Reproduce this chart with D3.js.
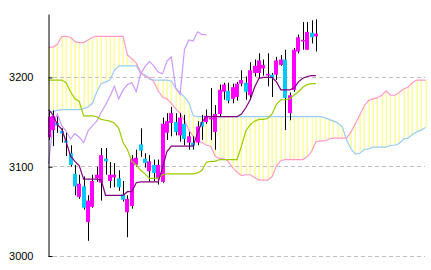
<!DOCTYPE html>
<html>
<head>
<meta charset="utf-8">
<script src="https://cdn.jsdelivr.net/npm/d3@7"></script>
<style>
  body { margin: 0; background: #fff; }
</style>
</head>
<body>
<div id="chart"></div>
<script>
// price ticks on the left axis
const yTicks = [3000, 3100, 3200];

// candles, one per bar (slot 0 is cut by the axis)
const open  = [3133,3141,3149,3140,3129,3115,3092,3066,3078,3038, 3055,3087,3082,3109,3084,3088,3087,3069,3049,3056,
               3102,3125,3109,3095,3102,3086,3083,3138,3149,3150, 3135,3148,3127,3127,3127,3150,3150,3153,3139,3159,
               3184,3185,3176,3178,3193,3194,3180,3205,3205,3210, 3202,3203,3203,3214,3220,3160,3186,3229,3241,3231,
               3250,3246];
const high  = [3161,3163,3156,3143,3138,3124,3102,3091,3089,3068, 3091,3100,3121,3121,3105,3104,3096,3084,3068,3113,
               3119,3143,3115,3113,3108,3108,3155,3160,3167,3160, 3160,3158,3139,3134,3151,3158,3164,3188,3169,3192,
               3194,3194,3193,3195,3208,3201,3217,3220,3227,3220, 3227,3205,3223,3225,3231,3183,3233,3248,3262,3262,
               3264,3265];
const low   = [3130,3123,3138,3127,3112,3100,3068,3064,3052,3017, 3054,3083,3062,3091,3076,3077,3073,3061,3021,3053,
               3100,3111,3099,3083,3084,3080,3082,3130,3134,3135, 3128,3124,3119,3119,3124,3130,3148,3130,3119,3156,
               3175,3171,3171,3174,3190,3175,3175,3201,3199,3202, 3190,3178,3197,3213,3141,3152,3184,3227,3231,3231,
               3238,3229];
const close = [3156,3157,3146,3137,3127,3102,3078,3081,3054,3062, 3084,3091,3113,3106,3091,3091,3077,3063,3064,3109,
               3110,3118,3104,3106,3093,3102,3148,3151,3160,3139, 3155,3131,3134,3123,3145,3145,3157,3155,3159,3186,
               3192,3174,3189,3193,3197,3184,3208,3213,3219,3214, 3204,3199,3219,3220,3177,3180,3231,3245,3242,3251,
               3245,3249];

// conversion line (purple) and base line (green)
const tenkan = [3164,3158,3147,3142,3128,3112,3106,3101,3086,3086, 3086,3086,3085,3068,3068,3068,3068,3068,3072,3072,
                3082,3083,3083,3083,3083,3083,3099,3117,3123,3123, 3123,3123,3123,3123,3138,3150,3156,3156,3156,3156,
                3156,3156,3156,3156,3159,3166,3175,3189,3199,3200, 3200,3200,3195,3186,3186,3186,3188,3195,3199,3201,
                3202,3202];
const kijun  = [3197,3197,3197,3197,3194,3184,3176,3173,3157,3157, 3157,3156,3153,3152,3151,3149,3143,3127,3119,3106,
                3102,3096,3092,3087,3087,3087,3091,3092,3092,3092, 3092,3092,3092,3092,3093,3096,3105,3106,3106,3108,
                3108,3108,3108,3108,3123,3140,3147,3151,3153,3153, 3154,3159,3170,3175,3175,3176,3180,3184,3189,3192,
                3193,3193];

// leading spans (cloud), run 25 bars past the last candle
const spanA = [3161,3162,3163,3164,3164,3164,3164,3164,3165,3167, 3171,3184,3193,3195,3197,3208,3213,3213,3213,3213,
               3213,3204,3203,3198,3197,3197,3197,3197,3196,3188, 3183,3178,3172,3157,3156,3156,3156,3156,3156,3156,
               3156,3156,3156,3156,3156,3156,3156,3156,3156,3156, 3156,3156,3156,3156,3156,3156,3156,3156,3156,3156,
               3156,3156,3156,3155,3153,3151,3149,3145,3130,3120, 3114,3115,3119,3120,3122,3122,3122,3122,3124,3124,
               3126,3131,3132,3136,3139,3141,3144];
const spanB = [3234,3234,3237,3246,3246,3245,3240,3239,3239,3242, 3245,3246,3246,3246,3246,3246,3246,3246,3225,3221,
               3216,3206,3201,3200,3195,3185,3178,3176,3171,3165, 3160,3152,3141,3134,3129,3127,3124,3123,3112,3109,
               3109,3106,3099,3094,3090,3091,3091,3088,3085,3085, 3085,3089,3101,3107,3108,3108,3108,3108,3108,3111,
               3117,3128,3129,3129,3131,3132,3132,3132,3132,3139, 3148,3158,3168,3174,3176,3177,3180,3185,3180,3180,
               3183,3187,3189,3194,3197,3197,3197];

// lagging span (lavender)
const chikou = [3103,3148,3159,3146,3140,3131,3137,3133,3127,3140, 3146,3151,3161,3169,3179,3190,3176,3186,3192,3194,
                3184,3204,3212,3218,3213,3206,3204,3218,3223,3188, 3181,3231,3242,3241,3251,3248,3248];

var width = 431, height = 270;

var svg = d3.select("#chart")
    .append("svg")
    .attr("width", width)
    .attr("height", height)
    .style("display", "block");

// one slot per bar, cloud goes on to slot 86
var x = d3.scaleLinear().domain([0, 86]).range([48.6, 425.5]);
var y = d3.scaleLinear().domain([3000, 3271]).range([256, 14]);

svg.append("defs").append("clipPath").attr("id", "plot")
    .append("rect").attr("x", 48).attr("y", 0).attr("width", width - 48).attr("height", height);

var plot = svg.append("g").attr("clip-path", "url(#plot)");

// cloud: vertical yellow strokes between the two spans
plot.append("g")
    .selectAll("line")
    .data(spanA)
    .join("line")
    .attr("x1", (d, i) => Math.round(x(i)) + 0.25)
    .attr("x2", (d, i) => Math.round(x(i)) + 0.25)
    .attr("y1", d => y(d))
    .attr("y2", (d, i) => y(spanB[i]))
    .attr("stroke", "#ffff99")
    .attr("stroke-width", 1.5);

// dashed grid
plot.append("g")
    .selectAll("line")
    .data(yTicks)
    .join("line")
    .attr("x1", 53)
    .attr("x2", 425)
    .attr("y1", d => Math.floor(y(d)) + 0.5)
    .attr("y2", d => Math.floor(y(d)) + 0.5)
    .attr("stroke", "#c0c0c0")
    .attr("stroke-dasharray", "4,3");

var path = d3.line().x((d, i) => x(i)).y(d => y(d));

function drawLine(data, color) {
    plot.append("path")
        .attr("d", path(data))
        .attr("fill", "none")
        .attr("stroke", color)
        .attr("stroke-width", 1.2);
}

drawLine(spanA, "#99ccff");
drawLine(spanB, "#ff99cc");
drawLine(chikou, "#cc99ff");

// candles
var candles = plot.append("g")
    .selectAll("g")
    .data(close)
    .join("g");

candles.append("line")
    .attr("x1", (d, i) => Math.round(x(i)) + 0.5)
    .attr("x2", (d, i) => Math.round(x(i)) + 0.5)
    .attr("y1", (d, i) => y(high[i]))
    .attr("y2", (d, i) => y(low[i]))
    .attr("stroke", "#000")
    .attr("stroke-width", 1);

candles.append("rect")
    .attr("x", (d, i) => Math.round(x(i)) - 2)
    .attr("width", 4)
    .attr("y", (d, i) => y(Math.max(open[i], d)))
    .attr("height", (d, i) => Math.max(1.5, Math.abs(y(open[i]) - y(d))))
    .attr("fill", (d, i) => d >= open[i] ? "#ff00ff" : "#00c8f8");

drawLine(kijun, "#99cc00");
drawLine(tenkan, "#800080");

// left axis, ticks pointing into the plot
var axis = d3.axisLeft(y)
    .tickValues(yTicks)
    .tickSize(-4)
    .tickSizeOuter(0)
    .tickPadding(15)
    .tickFormat(d3.format("d"));

var ax = svg.append("g")
    .attr("transform", "translate(48.5,0)")
    .call(axis);

ax.selectAll("text")
    .attr("font-family", "Liberation Sans, Arial, sans-serif")
    .attr("font-size", 11)
    .attr("fill", "#000");
ax.selectAll("line, path").attr("stroke", "#000");
</script>
</body>
</html>
